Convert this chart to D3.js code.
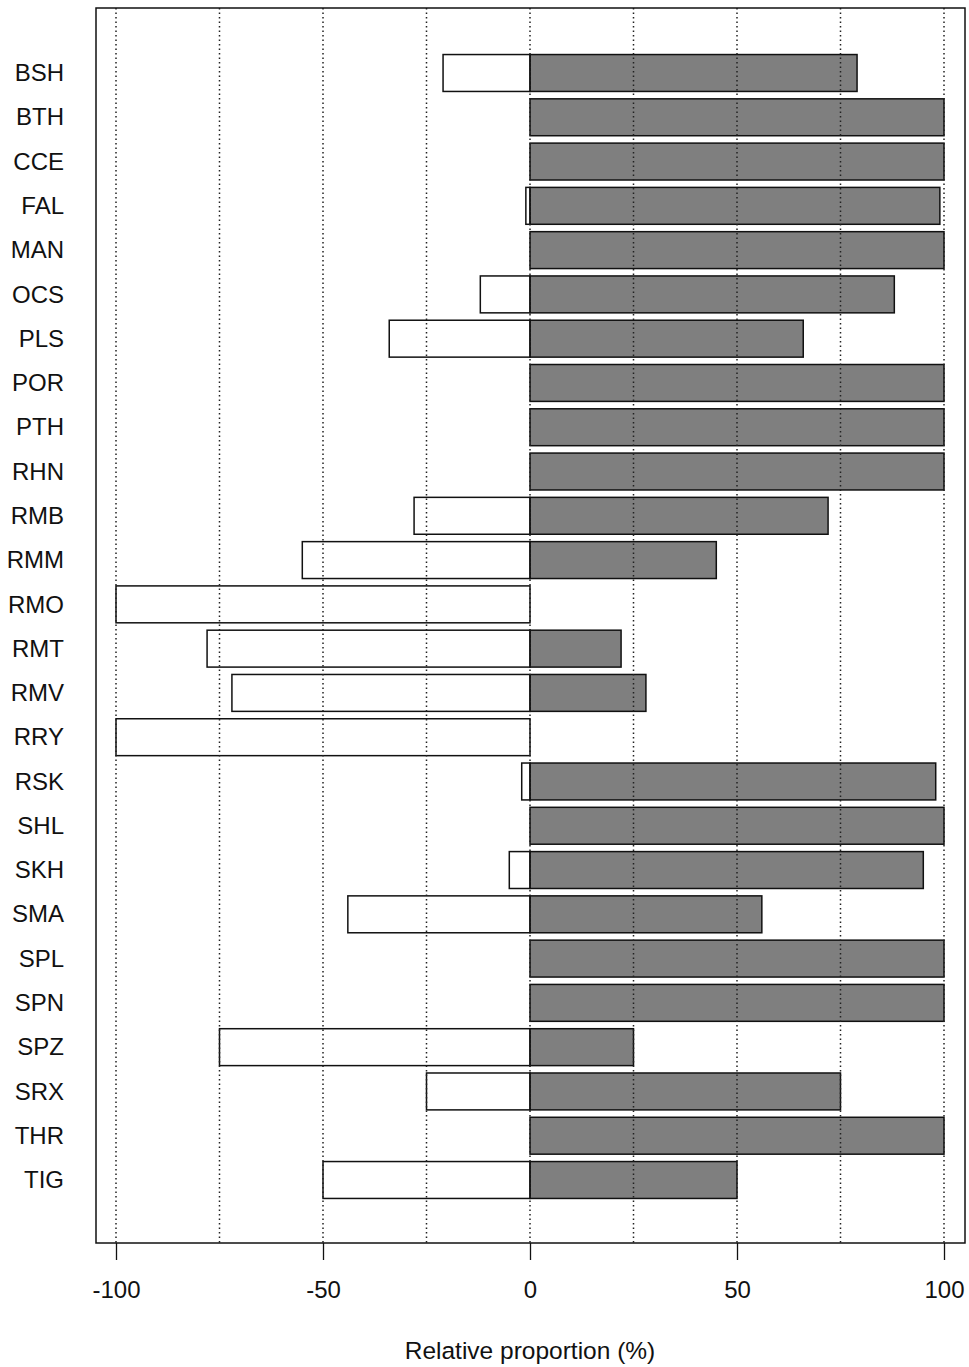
<!DOCTYPE html>
<html>
<head>
<meta charset="utf-8">
<script src="https://cdn.jsdelivr.net/npm/d3@7"></script>
<style>
  body { margin: 0; background: #fff; }
  svg { display: block; font-family: "Liberation Sans", Arial, Helvetica, sans-serif; }
</style>
</head>
<body>
<svg id="chart" width="969" height="1367"></svg>
<script>
// Site codes, top to bottom
var sites = ['BSH','BTH','CCE','FAL','MAN','OCS','PLS','POR','PTH','RHN','RMB','RMM','RMO',
             'RMT','RMV','RRY','RSK','SHL','SKH','SMA','SPL','SPN','SPZ','SRX','THR','TIG'];
// share on the negative side (open bars), in %
var negVals = [-21, 0, 0, -1, 0, -12, -34, 0, 0, 0, -28, -55, -100,
               -78, -72, -100, -2, 0, -5, -44, 0, 0, -75, -25, 0, -50];
// share on the positive side (grey bars), in %
var posVals = [79, 100, 100, 99, 100, 88, 66, 100, 100, 100, 72, 45, 0,
               22, 28, 0, 98, 100, 95, 56, 100, 100, 25, 75, 100, 50];
var tickVals = [-100, -50, 0, 50, 100];
var gridVals = [-100, -75, -50, -25, 0, 25, 50, 75, 100];

var svg = d3.select('#chart'),
    box = { left: 96, right: 965, top: 8, bottom: 1243 };

var x = d3.scaleLinear().domain([-100, 100]).range([116, 944]);
var y = d3.scaleBand()
    .domain(sites)
    .range([50.86, 50.86 + sites.length * 44.28])
    .paddingInner(1 / 6)
    .paddingOuter(1 / 12);

var rows = sites.map(function(s, i) {
  return { site: s, neg: negVals[i], pos: posVals[i] };
});

// positive (grey) bars
svg.append('g').selectAll('rect')
  .data(rows.filter(function(d) { return d.pos > 0; }))
  .enter().append('rect')
    .attr('x', x(0))
    .attr('y', function(d) { return y(d.site); })
    .attr('width', function(d) { return x(d.pos) - x(0); })
    .attr('height', y.bandwidth())
    .attr('fill', '#7f7f7f')
    .attr('stroke', '#111')
    .attr('stroke-width', 1.5);

// negative (open) bars
svg.append('g').selectAll('rect')
  .data(rows.filter(function(d) { return d.neg < 0; }))
  .enter().append('rect')
    .attr('x', function(d) { return x(d.neg); })
    .attr('y', function(d) { return y(d.site); })
    .attr('width', function(d) { return x(0) - x(d.neg); })
    .attr('height', y.bandwidth())
    .attr('fill', 'none')
    .attr('stroke', '#111')
    .attr('stroke-width', 1.5);

// dotted grid on top
svg.append('g').selectAll('line')
  .data(gridVals)
  .enter().append('line')
    .attr('x1', function(d) { return x(d); })
    .attr('x2', function(d) { return x(d); })
    .attr('y1', box.top)
    .attr('y2', box.bottom)
    .attr('stroke', '#222')
    .attr('stroke-width', 1.5)
    .attr('stroke-dasharray', '1.5,3');

// frame
svg.append('rect')
  .attr('x', box.left).attr('y', box.top)
  .attr('width', box.right - box.left).attr('height', box.bottom - box.top)
  .attr('fill', 'none').attr('stroke', '#111').attr('stroke-width', 1.5);

// category labels
svg.append('g').selectAll('text')
  .data(sites)
  .enter().append('text')
    .attr('x', 64)
    .attr('y', function(d) { return y(d) + y.bandwidth() / 2; })
    .attr('dy', '0.34em')
    .attr('text-anchor', 'end')
    .attr('font-size', 24)
    .attr('fill', '#111')
    .text(function(d) { return d; });

// x axis
var xAxis = d3.axisBottom(x).tickValues(tickVals).tickSize(17)
  .tickFormat(d3.format('d'));
var gx = svg.append('g')
  .attr('transform', 'translate(0,' + box.bottom + ')')
  .call(xAxis);
gx.select('.domain').remove();
gx.selectAll('.tick line').attr('stroke', '#111').attr('stroke-width', 1.3);
gx.selectAll('.tick text')
  .attr('y', 55)
  .attr('dy', 0)
  .attr('font-size', 24)
  .attr('fill', '#111')
  .attr('font-family', '"Liberation Sans", Arial, sans-serif')
  .text(function(d) { return String(d).replace('\u2212', '-'); });

svg.append('text')
  .attr('x', x(0))
  .attr('y', 1359)
  .attr('text-anchor', 'middle')
  .attr('font-size', 24.5)
  .attr('fill', '#111')
  .text('Relative proportion (%)');
</script>
</body>
</html>
